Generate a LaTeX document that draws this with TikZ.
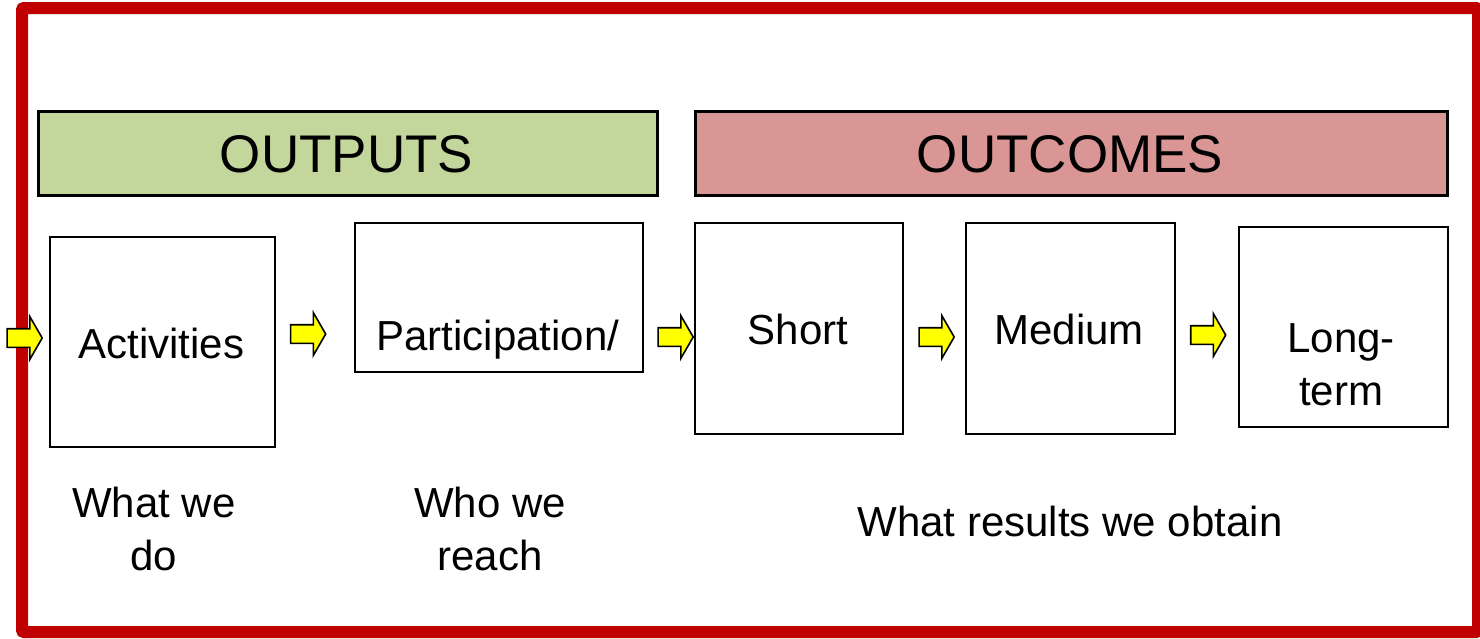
\documentclass[tikz,border=0pt]{standalone}
\usepackage{fontspec}
\setmainfont{Liberation Sans}
\usetikzlibrary{shapes.arrows}
\definecolor{frame}{HTML}{C00000}
\definecolor{outgreen}{HTML}{C3D69B}
\definecolor{outpink}{HTML}{D99694}
\definecolor{arrowyellow}{HTML}{FFFF00}
\begin{document}
\begin{tikzpicture}[x=1pt,y=-1pt,
  box/.style={draw=black,line width=2pt,fill=white,anchor=north west,inner sep=0pt},
  header/.style={draw=black,line width=2.5pt,anchor=north west,inner sep=0pt},
  bigtxt/.style={font=\fontsize{53}{60}\selectfont,anchor=base,inner sep=0pt},
  txt/.style={font=\fontsize{42}{53}\selectfont,anchor=base,inner sep=0pt,align=center},
  flow/.style={shape=single arrow,draw=black,line width=1.6pt,fill=arrowyellow,
    single arrow head extend=12pt,single arrow tip angle=120,
    minimum height=35pt,inner xsep=0pt,inner ysep=8.5pt}
]
\useasboundingbox (0,0) rectangle (1480,638);
\fill[white] (0,0) rectangle (1480,638);
% red frame
\draw[frame,line width=12pt,rounded corners=2pt] (22,8) rectangle (1478,632);
% headers
\node[header,fill=outgreen,minimum width=619pt,minimum height=84pt] (hout) at (37,110) {};
\node[header,fill=outpink,minimum width=752pt,minimum height=84pt] (hoc) at (694,110) {};
\node[bigtxt] (touts) at (346.5,172) {OUTPUTS};
\node[bigtxt] (toc) at (1070,172) {OUTCOMES};
% boxes
\node[box,minimum width=225pt,minimum height=210pt] (bact) at (49,236) {};
\node[box,minimum width=288pt,minimum height=149pt] (bpart) at (354,222) {};
\node[box,minimum width=208pt,minimum height=211pt] (bshort) at (694,222) {};
\node[box,minimum width=209pt,minimum height=211pt] (bmed) at (965,222) {};
\node[box,minimum width=209pt,minimum height=200pt] (blong) at (1238,226) {};
% box texts
\node[txt] (tact) at (161.5,358) {Activities};
\node[txt] (tpart) at (498,350) {Participation/};
\node[txt] (tshort) at (798,344) {Short};
\node[txt] (tmed) at (1069,344) {Medium};
\node[txt,anchor=north,align=center] (tlong) at (1341,323) {\vphantom{L}\smash{Long-}\\term};
% arrows
\node[flow] (a0) at (22,338) {};
\node[flow] (a1) at (305.5,334) {};
\node[flow] (a2) at (673,337) {};
\node[flow] (a3) at (934,337) {};
\node[flow] (a4) at (1205.5,335) {};
% bottom captions
\node[txt] (cdo1) at (154,517) {What we};
\node[txt] (cdo2) at (154,570) {do};
\node[txt] (creach1) at (490,517) {Who we};
\node[txt] (creach2) at (490,570) {reach};
\node[txt] (cres) at (1070,536) {What results we obtain};
\end{tikzpicture}
\end{document}
